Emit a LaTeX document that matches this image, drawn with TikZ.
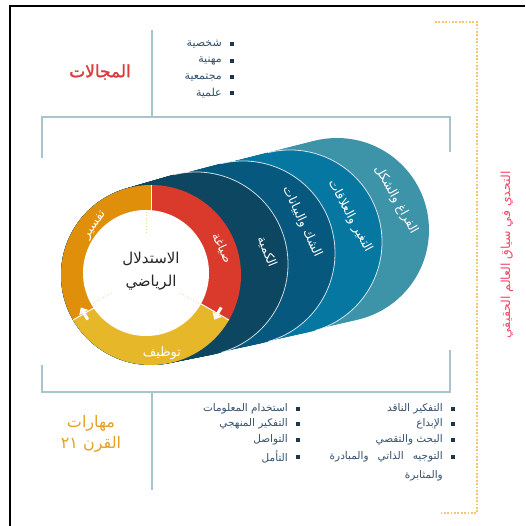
\documentclass[tikz,border=0pt]{standalone}
\usepackage{fontspec}
\usetikzlibrary{arrows.meta}
\TeXXeTstate=1
\newfontfamily\arb[Script=Arabic]{DejaVu Sans}
\newfontfamily\arbb[Script=Arabic,FakeBold=1.6]{DejaVu Sans}
\definecolor{brk}{HTML}{A8C4CF}
\definecolor{dotc}{HTML}{F6C66B}
\definecolor{titr}{HTML}{DD3B3B}
\definecolor{tito}{HTML}{E5A024}
\definecolor{itemc}{HTML}{34506B}
\definecolor{bulc}{HTML}{1E3550}
\definecolor{ringR}{HTML}{D93A2C}
\definecolor{ringO}{HTML}{E08F0A}
\definecolor{ringY}{HTML}{E7B72A}
\definecolor{layA}{HTML}{0D4660}
\definecolor{layB}{HTML}{06587F}
\definecolor{layC}{HTML}{0677A0}
\definecolor{layD}{HTML}{3D93A8}
\definecolor{vred}{HTML}{F0496A}
\definecolor{innerdot}{HTML}{F2DC9C}
\begin{document}
\begin{tikzpicture}[x=1pt,y=1pt,
  frameline/.style={draw=black,line width=2.2pt},
  bracket/.style={draw=brk,line width=1.4pt},
  dotframe/.style={draw=dotc,line width=1.8pt,dash pattern=on 1.8pt off 1.6pt},
  item/.style={anchor=east,inner sep=0pt,text=itemc,font=\arb\fontsize{10.5}{12}\selectfont},
  topitem/.style={item,font=\arb\fontsize{11}{13}\selectfont},
  bul/.style={fill=bulc,minimum size=3.2pt,inner sep=0pt},
  seglab/.style={inner sep=0pt,text=white,font=\arb\fontsize{12.5}{14}\selectfont},
  flowarrow/.style={draw=white,line width=3pt,-{Triangle[length=6pt,width=10pt]}}]
\useasboundingbox (0,0) rectangle (525,526);

% outer frame
\draw[frameline] (10,0) -- (10,520) -- (525,520);

% grey brackets and dividers
\draw[bracket] (152,496) -- (152,409);
\draw[bracket] (42,368) -- (42,409) -- (450,409) -- (450,374);
\draw[bracket] (42,161) -- (42,134) -- (450,134) -- (450,176);
\draw[bracket] (152,134) -- (152,36);

% dotted orange bracket on the right
\draw[dotframe] (435,504) -- (477,504) -- (477,13) -- (441,13);

% extruded layers, back to front
\foreach \cx/\cy/\col/\edge in {337/296/layD/0, 290/284/layC/1, 243/273/layB/1, 196/262/layA/1}{
  \foreach \t in {0,0.04,...,1.001}{
    \fill[\col] ({151+\t*(\cx-151)},{251+\t*(\cy-251)}) circle[radius={90+2*\t}];
  }
  \ifnum\edge=1
    \draw[white,line width=0.8pt,opacity=0.8] ({\cx+92*cos(-74)},{\cy+92*sin(-74)}) arc[start angle=-74,end angle=104,radius=92];
  \fi
}

% front ring: three wedges
\begin{scope}[shift={(151,251)}]
  \fill[ringR] (0,0) -- (90:90) arc[start angle=90,end angle=-30,radius=90] -- cycle;
  \fill[ringY] (0,0) -- (-30:90) arc[start angle=-30,end angle=-150,radius=90] -- cycle;
  \fill[ringO] (0,0) -- (210:90) arc[start angle=210,end angle=90,radius=90] -- cycle;
  \foreach \a in {90,-30,210} \draw[white,line width=1pt] (0,0) -- (\a:90);
\end{scope}
\fill[white] (146,253) circle[radius=63];
\begin{scope}[shift={(146,253)}]
  \foreach \a in {90,-30,210} \draw[innerdot,line width=0.9pt,dotted] (\a:40) -- (\a:63);
\end{scope}

% direction arrows on the ring
\coordinate (arAs) at (221.2,218.6);
\coordinate (arAe) at (214.2,206.4);
\coordinate (arBs) at (87.8,206.4);
\coordinate (arBe) at (80.8,218.6);
\draw[flowarrow] (arAs) -- (arAe);
\draw[flowarrow] (arBs) -- (arBe);

% ring labels
\node[seglab,rotate=-65] (sya) at (222,278) {\beginR صياغة\endR};
\node[seglab,rotate=55] (tfs) at (95,301) {\beginR تفسير\endR};
\node[seglab,font=\arb\fontsize{13}{15}\selectfont] (twz) at (162,173) {\beginR توظيف\endR};

% layer labels
\node[seglab,rotate=-68] (kam) at (267,274) {\beginR الكمية\endR};
\node[seglab,rotate=-65] (shk) at (302,304) {\beginR الشك والبيانات\endR};
\node[seglab,rotate=-62] (tgh) at (350,310) {\beginR التغير والعلاقات\endR};
\node[seglab,rotate=-61] (frg) at (396,326) {\beginR الفراغ والشكل\endR};

% centre text
\node[align=center,inner sep=0pt,text=black!85,font=\arb\fontsize{15}{23}\selectfont] (core) at (151,255)
  {\beginR الاستدلال\endR\\\beginR الرياضي\endR};

% headings
\node[text=titr,font=\arbb\fontsize{17}{20}\selectfont] (fields) at (100,454) {\beginR المجالات\endR};
\node[align=center,text=tito,font=\arb\fontsize{16}{21}\selectfont] (skills) at (91,92)
  {\beginR مهارات\endR\\\beginR القرن \beginL ٢١\endL\endR};
\node[rotate=90,text=vred,font=\arb\fontsize{12.5}{14}\selectfont] (real) at (507,271)
  {\beginR التحدي في سياق العالم الحقيقي\endR};

% top list
\foreach \y/\txt [count=\i] in {482/شخصية,465/مهنية,449/مجتمعية,433/علمية}{
  \node[bul] (tb\i) at (232,\y) {};
  \node[topitem] (tt\i) at (222,\y) {\beginR \txt\endR};
}

% bottom lists
\foreach \y/\txt [count=\i] in {117/استخدام المعلومات,102/التفكير المنهجي,86/التواصل,69/التأمل}{
  \node[bul] (lb\i) at (298,\y) {};
  \node[item] (lt\i) at (288,\y) {\beginR \txt\endR};
}
\foreach \y/\txt [count=\i] in {117/التفكير الناقد,102/الإبداع,86/البحث والتقصي}{
  \node[bul] (rb\i) at (453,\y) {};
  \node[item] (rt\i) at (443,\y) {\beginR \txt\endR};
}
\node[bul] (rb4) at (453,69) {};
\node[item] (rt4) at (443,69) {\beginR التوجيه\hspace{9pt}الذاتي\hspace{9pt}والمبادرة\endR};
\node[item] (rt5) at (443,50) {\beginR والمثابرة\endR};
\end{tikzpicture}
\end{document}
